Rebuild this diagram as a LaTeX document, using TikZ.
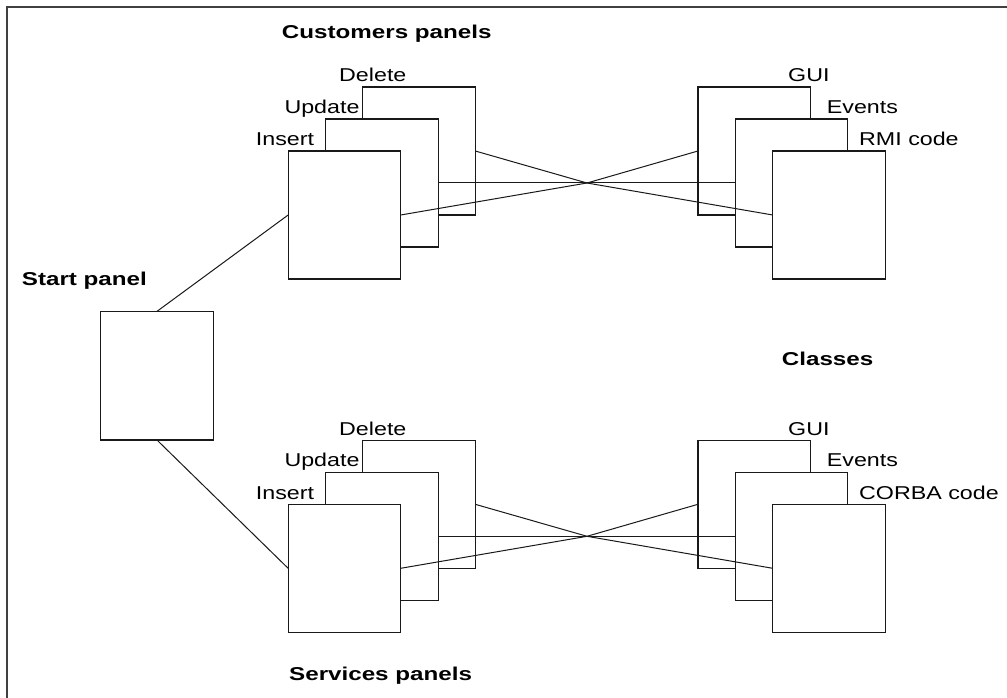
\documentclass[tikz,border=0pt]{standalone}
\usepackage{fontspec}
\newfontfamily\lblfont{Liberation Sans}[FakeStretch=1.25]
\newfontfamily\headfont{Liberation Sans}[FakeStretch=1.3]
\begin{document}
\begin{tikzpicture}[x=1pt,y=-1pt,
  panel/.style={draw=black!90,line width=1.3pt,fill=white,minimum width=112.5pt,
    minimum height=128pt,inner sep=0pt,outer sep=0pt},
  link/.style={draw=black!90,line width=1pt},
  lbl/.style={anchor=base west,inner sep=0pt,font=\lblfont\fontsize{18.6}{22}\selectfont},
  head/.style={anchor=base west,inner sep=0pt,font=\headfont\bfseries\fontsize{18.6}{22}\selectfont}]
\useasboundingbox (0,0) rectangle (1007,698);
% open frame: left and top edges only
\draw[black!75,line width=2pt] (7.3,698) -- (7.3,7.3) -- (1007,7.3);

% start panel
\node[panel,minimum height=128.7pt] (start) at (157,375.7) {};
\node[head] (startlbl) at (21.7,285) {Start panel};
\node[head] (classlbl) at (781.7,365) {Classes};

% ---- customers panels (top) ----
\node[head] (custlbl) at (281.7,38.3) {Customers panels};
\node[panel] (cdel) at (419,151) {};
\node[panel] (cupd) at (381.9,183) {};
\node[panel] (cins) at (344.4,215) {};
\node[lbl] (cdellbl) at (339,81.7) {Delete};
\node[lbl] (cupdlbl) at (284.3,113.3) {Update};
\node[lbl] (cinslbl) at (255.7,146) {Insert};

\node[panel] (cgui) at (754.2,151) {};
\node[panel] (cevt) at (791.5,183) {};
\node[panel] (ccode) at (829,215) {};
\node[lbl] (cguilbl) at (788,81.7) {GUI};
\node[lbl] (cevtlbl) at (826.7,113.3) {Events};
\node[lbl] (ccodelbl) at (859,146) {RMI code};

\coordinate (chub) at (587,183);

% ---- services panels (bottom) ----
\node[head] (servlbl) at (289,680) {Services panels};
\node[panel] (sdel) at (419,504.3) {};
\node[panel] (supd) at (381.9,536.3) {};
\node[panel] (sins) at (344.4,568.3) {};
\node[lbl] (sdellbl) at (339,435) {Delete};
\node[lbl] (supdlbl) at (284.3,466.6) {Update};
\node[lbl] (sinslbl) at (255.7,499.3) {Insert};

\node[panel] (sgui) at (754.2,504.3) {};
\node[panel] (sevt) at (791.5,536.3) {};
\node[panel] (scode) at (829,568.3) {};
\node[lbl] (sguilbl) at (788,435) {GUI};
\node[lbl] (sevtlbl) at (826.7,466.6) {Events};
\node[lbl] (scodelbl) at (859,499.3) {CORBA code};

\coordinate (shub) at (587,536.3);

% ---- connectors ----
\draw[link] (start.north) -- (cins.west);
\draw[link] (start.south) -- (sins.west);

\foreach \a in {cdel,cupd,cins} \draw[link] (\a.east) -- (chub);
\foreach \b in {cgui,cevt,ccode} \draw[link] (chub) -- (\b.west);
\foreach \a in {sdel,supd,sins} \draw[link] (\a.east) -- (shub);
\foreach \b in {sgui,sevt,scode} \draw[link] (shub) -- (\b.west);
\end{tikzpicture}
\end{document}
